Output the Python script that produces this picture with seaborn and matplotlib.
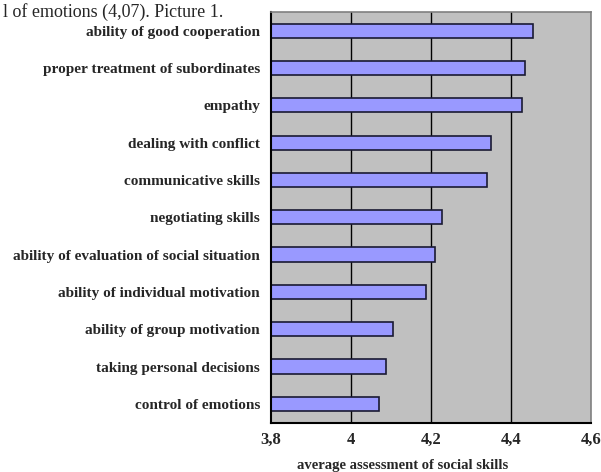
import matplotlib
matplotlib.use("Agg")
import matplotlib.pyplot as plt
import seaborn as sns
import pandas as pd
from matplotlib.ticker import FixedLocator

# skills and their average assessment
skills = [
    "ability of good cooperation",
    "proper treatment of subordinates",
    "empathy",
    "dealing with conflict",
    "communicative skills",
    "negotiating skills",
    "ability of evaluation of social situation",
    "ability of individual motivation",
    "ability of group motivation",
    "taking personal decisions",
    "control of emotions",
]
scores = [4.455, 4.436, 4.427, 4.349, 4.34, 4.228, 4.21, 4.187, 4.106, 4.088, 4.07]
x_ticks = [3.8, 4.0, 4.2, 4.4, 4.6]
x_tick_labels = ["3,8", "4", "4,2", "4,4", "4,6"]

df = pd.DataFrame({"skill": skills, "score": scores})

sns.set_style("white")
plt.rcParams["font.family"] = ["Liberation Serif", "DejaVu Serif"]

fig = plt.figure(figsize=(6.01, 4.72), dpi=100)
ax = fig.add_axes([271 / 601, 1 - 422.5 / 472, 320 / 601, 410.5 / 472])
ax.set_facecolor("#c0c0c0")

sns.barplot(data=df, x="score", y="skill", orient="h", color="#9999ff",
            saturation=1, width=0.38, edgecolor="#1a1a33", linewidth=1.2, ax=ax)

ax.set_xlim(3.8, 4.6)
ax.set_ylim(len(skills) - 0.5, -0.5)

# vertical grid lines at inner ticks
for xv in x_ticks[1:-1]:
    ax.axvline(xv, color="black", lw=1.0, zorder=0.5)

ax.set_xticks(x_ticks)
ax.set_xticklabels(x_tick_labels, fontsize=12, fontweight="bold")
ax.set_yticks(range(len(skills)))
ax.set_yticklabels(skills, fontsize=11, fontweight="bold")
ax.tick_params(axis="y", which="major", length=0, pad=8)
ax.yaxis.set_minor_locator(FixedLocator([i + 0.5 for i in range(-1, len(skills))]))
ax.tick_params(axis="y", which="minor", length=5, width=1.5, color="black", direction="out")
ax.tick_params(axis="x", which="major", length=6, width=1.5, color="black", direction="inout", pad=4)

for side in ["left", "bottom"]:
    ax.spines[side].set_color("black")
    ax.spines[side].set_linewidth(1.5)
for side in ["top", "right"]:
    ax.spines[side].set_color("#808080")
    ax.spines[side].set_linewidth(1.2)

ax.set_ylabel("")
ax.set_xlabel("average assessment of social skills", fontsize=10.5, fontweight="bold")
ax.xaxis.set_label_coords(0.41, -0.088)
ax.xaxis.label.set_va("top")

# caption from the surrounding document
fig.text(3 / 601, 1 - 3 / 472, "l of emotions (4,07). Picture 1.", fontsize=13,
         ha="left", va="top")

fig.savefig("out.png", dpi=100)
